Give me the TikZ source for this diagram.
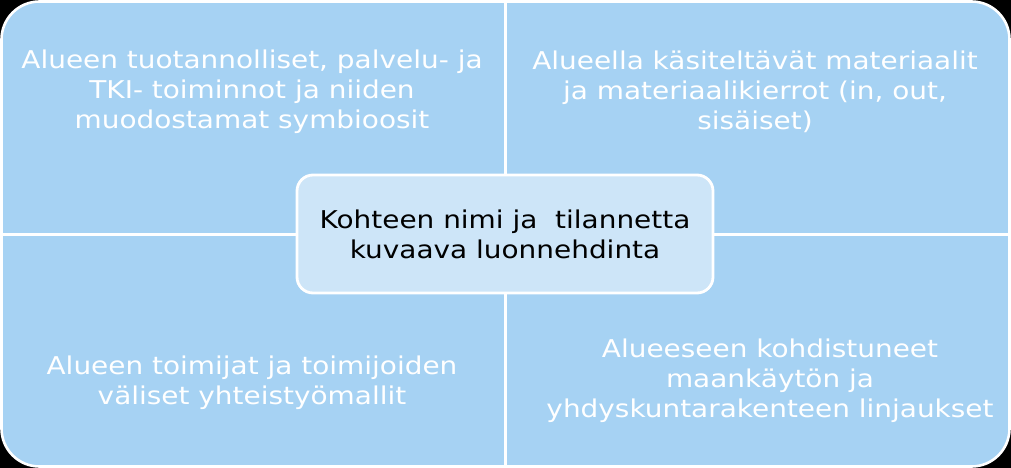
\documentclass[tikz,border=0pt]{standalone}
\usepackage{fontspec}
\setmainfont{DejaVu Sans}[FakeStretch=1.14]
\definecolor{quadblue}{RGB}{166,210,243}
\definecolor{centerblue}{RGB}{205,229,248}
\begin{document}
\begin{tikzpicture}[x=1pt,y=1pt,
  quad/.style={fill=quadblue,draw=white,line width=2.6pt},
  quadtext/.style={text=white,align=center,font=\fontsize{24.5}{30}\selectfont},
  centerbox/.style={fill=centerblue,draw=white,line width=2.8pt,rounded corners=16pt,
     minimum width=416pt,minimum height=118pt,align=center,text=black,
     font=\fontsize{24.5}{30}\selectfont}]
\fill[black] (0,0) rectangle (1011,468);
\useasboundingbox (0,0) rectangle (1011,468);
% top-left
\draw[quad] (505.5,233.5) -- (1.5,233.5) -- (1.5,428.5) arc[start angle=180,end angle=90,radius=38] -- (505.5,466.5) -- cycle;
% top-right
\draw[quad] (505.5,233.5) -- (505.5,466.5) -- (971.5,466.5) arc[start angle=90,end angle=0,radius=38] -- (1009.5,233.5) -- cycle;
% bottom-left
\draw[quad] (505.5,233.5) -- (1.5,233.5) -- (1.5,39.5) arc[start angle=180,end angle=270,radius=38] -- (505.5,1.5) -- cycle;
% bottom-right
\draw[quad] (505.5,233.5) -- (505.5,1.5) -- (971.5,1.5) arc[start angle=270,end angle=360,radius=38] -- (1009.5,233.5) -- cycle;
\node[quadtext] (tl) at (252,376) {Alueen tuotannolliset, palvelu- ja\\TKI- toiminnot ja niiden\\muodostamat symbioosit};
\node[quadtext] (tr) at (755,376) {Alueella käsiteltävät materiaalit\\ja materiaalikierrot (in, out,\\sisäiset)};
\node[quadtext] (bl) at (252,85) {Alueen toimijat ja toimijoiden\\väliset yhteistyömallit};
\node[quadtext] (br) at (770,87) {Alueeseen kohdistuneet\\maankäytön ja\\yhdyskuntarakenteen linjaukset};
\node[centerbox] (c) at (505,234) {Kohteen nimi ja\ \ tilannetta\\kuvaava luonnehdinta};
\end{tikzpicture}
\end{document}
